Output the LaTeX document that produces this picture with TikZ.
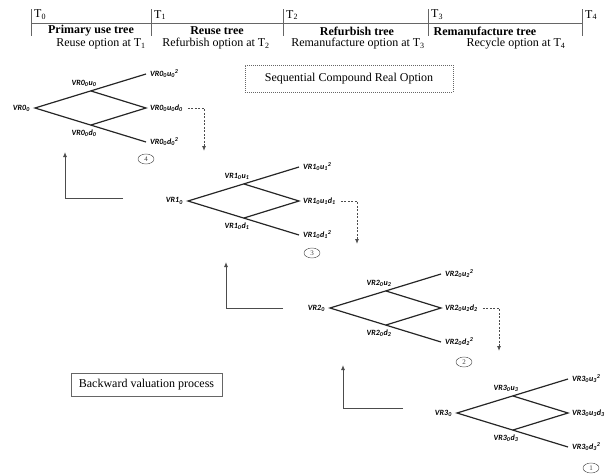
\documentclass[tikz,border=0pt]{standalone}
\usepackage{fontspec}
\setmainfont{Liberation Serif}
\newfontfamily\treefont{Carlito}
\usetikzlibrary{arrows.meta,calc,shapes.geometric}
\newcommand\subsup[2]{\textsubscript{#1}\textsuperscript{#2}}

\begin{document}
\begin{tikzpicture}[x=1pt,y=-1pt,
  hdr/.style={font=\fontsize{12}{13}\selectfont,inner sep=1pt},
  ttl/.style={font=\bfseries\fontsize{12}{13}\selectfont,inner sep=1pt},
  lab/.style={font=\treefont\bfseries\itshape\fontsize{8}{9}\selectfont,inner sep=1pt},
  branch/.style={line width=1.2pt,black!85},
  back/.style={line width=0.9pt,black!70,-{Latex[length=5pt,width=4pt]}},
  fwd/.style={line width=0.9pt,black!70,dash pattern=on 2pt off 1.5pt,-{Latex[length=5pt,width=4pt]}},
  num/.style={draw,black!75,ellipse,minimum width=16pt,minimum height=10pt,inner sep=0pt,font=\fontsize{7}{7}\selectfont}]
\useasboundingbox (0,0) rectangle (608,474);
\draw[black!60,line width=0.6pt] (31,23) -- (582,23);
\foreach \t/\x in {0/31,1/151,2/283,3/428,4/582}{
  \coordinate (h\t) at (\x,23);
  \draw[black!60,line width=0.6pt] ([yshift=14pt]h\t) -- ([yshift=-13pt]h\t);
  \node[hdr,anchor=west] (tl\t) at ([xshift=2pt,yshift=8pt]h\t) {T\textsubscript{\t}};
}
\node[ttl] (tt0) at (91,31) {Primary use tree};
\node[ttl] (tt1) at (217,31) {Reuse tree};
\node[ttl] (tt2) at (357,31) {Refurbish tree};
\node[ttl] (tt3) at (485,31) {Remanufacture tree};
\node[hdr] (ts0) at (101,44) {Reuse option at T\textsubscript{1}};
\node[hdr] (ts1) at (216,44) {Refurbish option at T\textsubscript{2}};
\node[hdr] (ts2) at (358,44) {Remanufacture option at T\textsubscript{3}};
\node[hdr] (ts3) at (516,44) {Recycle option at T\textsubscript{4}};
\node[hdr,draw=black!60,dash pattern=on 1pt off 1pt,minimum width=208pt,minimum height=27pt] (seq) at (349,78.5) {Sequential Compound Real Option};
\node[hdr,draw=black!60,minimum width=151pt,minimum height=23pt] (bvp) at (146.5,384.5) {Backward valuation process};
\foreach \i/\x/\y in {0/35/108,1/188/201,2/330/308,3/457/413}{
  \begin{scope}[shift={(\x,\y)}]
  \coordinate (r\i) at (0,0);
  \coordinate (u\i) at (56,-17);
  \coordinate (d\i) at (56,17);
  \coordinate (uu\i) at (111,-34);
  \coordinate (ud\i) at (111,0);
  \coordinate (dd\i) at (111,34);
  \end{scope}
  \draw[branch] (uu\i) -- (r\i) -- (dd\i);
  \draw[branch] (u\i) -- (ud\i) -- (d\i);
  \node[lab,anchor=east] (lr\i) at ([xshift=-4pt]r\i) {VR\i\textsubscript{0}};
  \node[lab,anchor=south] (lu\i) at ([xshift=-7pt,yshift=3pt]u\i) {VR\i\textsubscript{0}u\textsubscript{\i}};
  \node[lab,anchor=north] (ld\i) at ([xshift=-7pt,yshift=-4pt]d\i) {VR\i\textsubscript{0}d\textsubscript{\i}};
  \node[lab,anchor=west] (luu\i) at ([xshift=3pt]uu\i) {VR\i\textsubscript{0}u\subsup{\i}{2}};
  \node[lab,anchor=west] (lud\i) at ([xshift=3pt]ud\i) {VR\i\textsubscript{0}u\textsubscript{\i}d\textsubscript{\i}};
  \node[lab,anchor=west] (ldd\i) at ([xshift=3pt]dd\i) {VR\i\textsubscript{0}d\subsup{\i}{2}};
}
\node[num] (c4) at (146,159) {4};
\node[num] (c3) at (312,253) {3};
\node[num] (c2) at (464,362) {2};
\node[num] (c1) at (591,468) {1};
\foreach \i in {0,1,2}{
  \coordinate (f\i) at ($(ud\i)+(58,43)$);
  \draw[fwd] ([xshift=4pt]lud\i.east) -| (f\i);
}
\foreach \i/\cx/\cy/\ty/\ex in {0/65/198/152/123,1/226/308/262/283,2/343/408/365/403}{
  \coordinate (bc\i) at (\cx,\cy);
  \coordinate (bt\i) at (\cx,\ty);
  \coordinate (be\i) at (\ex,\cy);
  \draw[back] (be\i) -- (bc\i) -- (bt\i);
}
\end{tikzpicture}
\end{document}
